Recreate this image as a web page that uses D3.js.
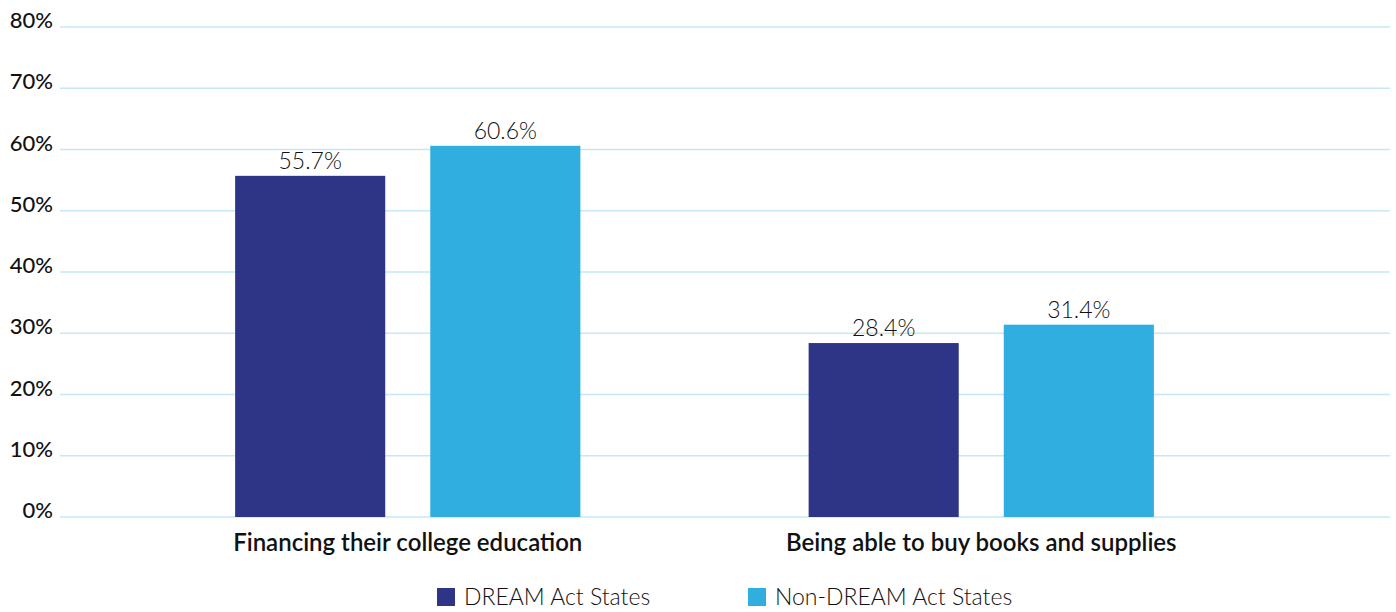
<!DOCTYPE html>
<html>
<head>
<meta charset="utf-8">
<script src="https://cdn.jsdelivr.net/npm/d3@7"></script>
<style>
  body { margin: 0; background: #fff; }
  text { font-family: Lato, "Open Sans", sans-serif; fill: #111; }
</style>
</head>
<body>
<div id="chart"></div>
<script>
// data
var categories = ["Financing their college education", "Being able to buy books and supplies"];
var series = ["DREAM Act States", "Non-DREAM Act States"];
var dreamValues = [55.7, 28.4];
var nonDreamValues = [60.6, 31.4];
var yTicks = [0, 10, 20, 30, 40, 50, 60, 70, 80];
var colors = ["#2e3586", "#31aee0"];

var width = 1396, height = 612;
var svg = d3.select("#chart").append("svg")
  .attr("width", width)
  .attr("height", height);

var y = d3.scaleLinear().domain([0, 80]).range([517, 27]);

var x0 = d3.scaleBand()
  .domain(categories)
  .range([121, 1268])
  .paddingInner(0.398)
  .paddingOuter(0.199);

var x1 = d3.scaleBand()
  .domain(series)
  .range([0, x0.bandwidth()])
  .paddingInner(0.2308);

// grid lines
svg.append("g").selectAll("line")
  .data(yTicks)
  .enter()
  .append("line")
  .attr("x1", 60)
  .attr("x2", 1390)
  .attr("y1", function(d){ return y(d); })
  .attr("y2", function(d){ return y(d); })
  .style("stroke", "#c6e8f5")
  .style("stroke-width", 1.5);

// y tick labels
svg.append("g").selectAll("text")
  .data(yTicks)
  .enter()
  .append("text")
  .attr("x", 53)
  .attr("y", function(d){ return y(d) + 1; })
  .attr("text-anchor", "end")
  .style("font-size", "22px")
  .style("font-weight", 500)
  .text(function(d){ return d + "%"; });

var rows = categories.map(function(c, i) {
  return { cat: c, vals: [dreamValues[i], nonDreamValues[i]] };
});

var groups = svg.append("g").selectAll("g")
  .data(rows)
  .enter()
  .append("g")
  .attr("transform", function(d){ return "translate(" + x0(d.cat) + ",0)"; });

groups.selectAll("rect")
  .data(function(d){ return d.vals.map(function(v, k){ return { s: series[k], v: v, k: k }; }); })
  .enter()
  .append("rect")
  .attr("x", function(d){ return x1(d.s); })
  .attr("y", function(d){ return y(d.v); })
  .attr("width", x1.bandwidth())
  .attr("height", function(d){ return y(0) - y(d.v); })
  .style("fill", function(d){ return colors[d.k]; });

groups.selectAll("text.val")
  .data(function(d){ return d.vals.map(function(v, k){ return { s: series[k], v: v, k: k }; }); })
  .enter()
  .append("text")
  .attr("class", "val")
  .attr("x", function(d){ return x1(d.s) + x1.bandwidth() / 2; })
  .attr("y", function(d){ return y(d.v) - 7; })
  .attr("text-anchor", "middle")
  .style("font-size", "23px")
  .style("font-weight", 300)
  .text(function(d){ return d.v.toFixed(1) + "%"; });

// category labels
svg.append("g").selectAll("text")
  .data(categories)
  .enter()
  .append("text")
  .attr("x", function(d){ return x0(d) + x0.bandwidth() / 2; })
  .attr("y", 551)
  .attr("text-anchor", "middle")
  .style("font-size", "24px")
  .style("font-weight", 600)
  .text(function(d){ return d; });

// legend
var legendX = [437, 748];
var legend = svg.append("g").selectAll("g")
  .data(series)
  .enter()
  .append("g")
  .attr("transform", function(d, i){ return "translate(" + legendX[i] + ",588)"; });
legend.append("rect")
  .attr("width", 18)
  .attr("height", 18)
  .style("fill", function(d, i){ return colors[i]; });
legend.append("text")
  .attr("x", 27)
  .attr("y", 17)
  .style("font-size", "23px")
  .style("font-weight", 300)
  .text(function(d){ return d; });
</script>
</body>
</html>
